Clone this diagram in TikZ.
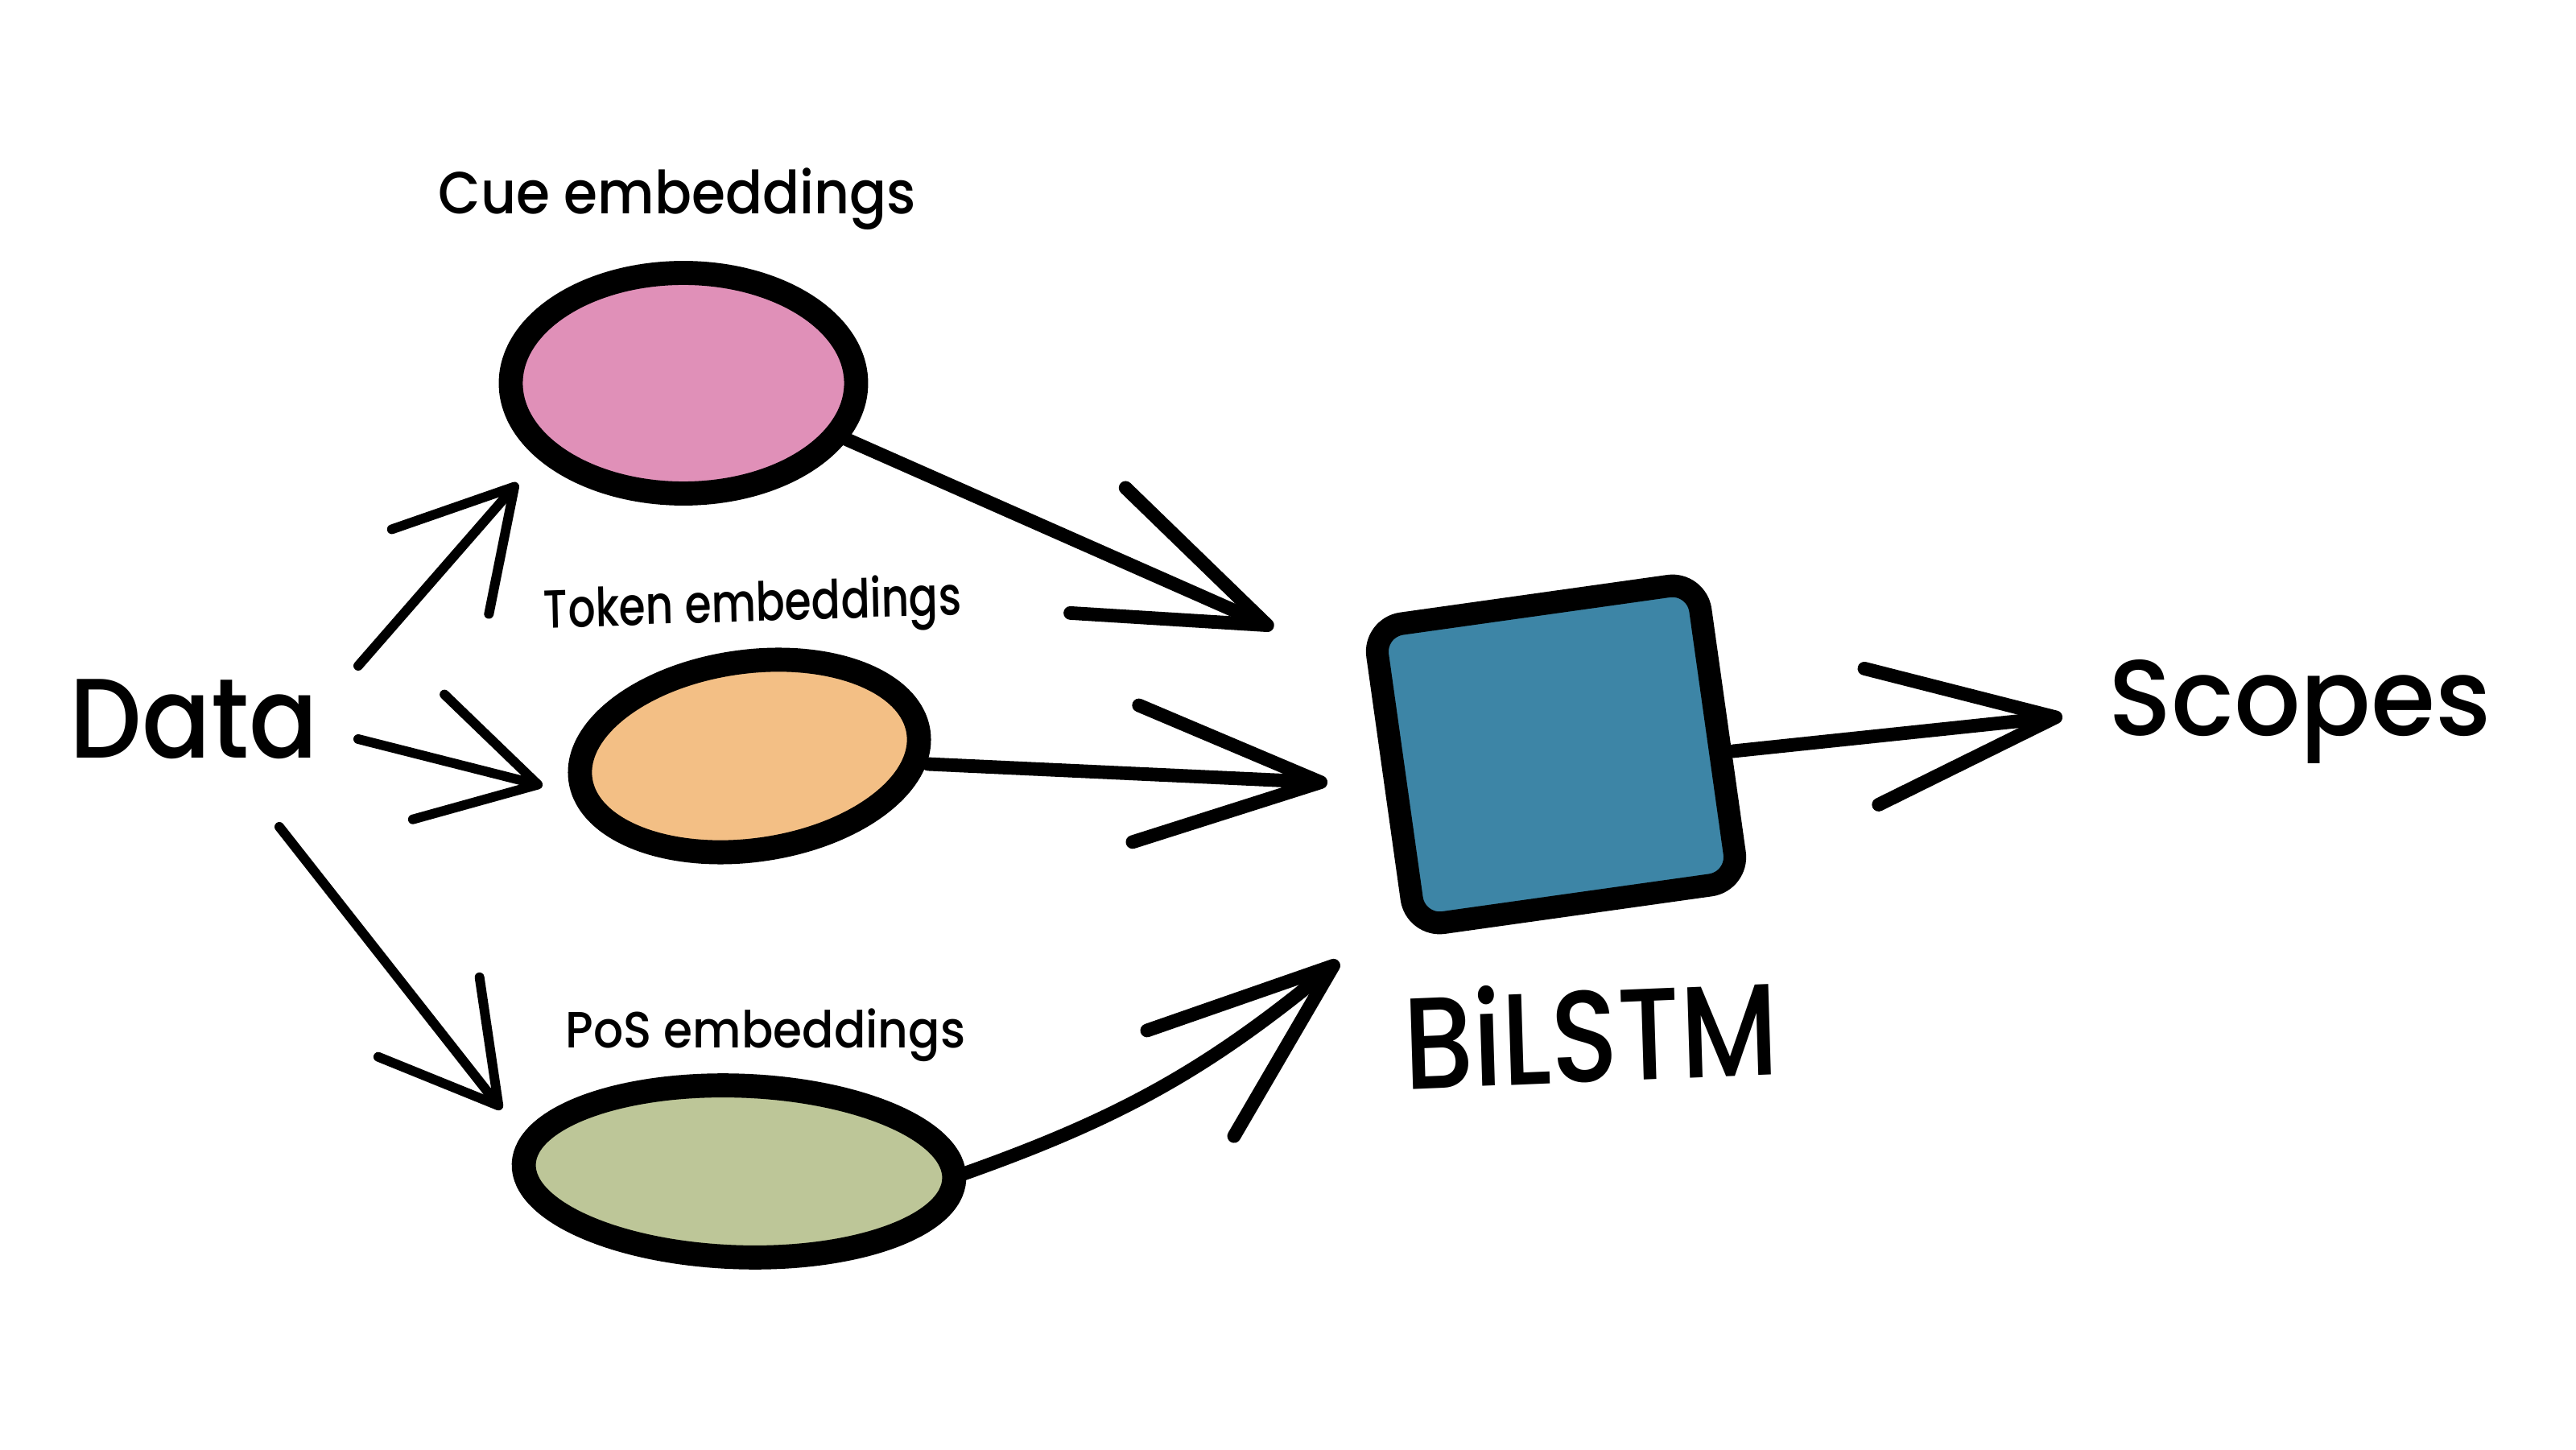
\documentclass[tikz,border=0pt]{standalone}
\usepackage{fontspec}
\setmainfont{Poppins}[UprightFont=* Medium]
\usetikzlibrary{shapes.geometric, arrows.meta}

\definecolor{cuepink}{RGB}{224,144,184}
\definecolor{tokenorange}{RGB}{243,191,133}
\definecolor{posgreen}{RGB}{189,198,152}
\definecolor{lstmblue}{RGB}{61,133,166}

\begin{document}
\begin{tikzpicture}[
            blob/.style={ellipse, draw=black, line width=8.5pt, inner sep=0pt},
            thinarrow/.style={-{Straight Barb[length=14mm, width=16mm, round]}, line width=3.4pt, line cap=round},
            thickarrow/.style={-{Straight Barb[length=23mm, width=17mm, round]}, line width=4.8pt, line cap=round},
            embtext/.style={inner sep=0pt, transform shape},
            bigtext/.style={inner sep=0pt, transform shape, font=\fontsize{40}{48}\selectfont}
        ]
            \useasboundingbox[fill=white] (0, 0) rectangle (32, 18);
            \node[bigtext, xscale=0.9] (data) at (2.41, 9.07) {Data};
            \node[embtext, font=\fontsize{21}{25}\selectfont, xscale=0.92] (cuetext) at (8.41, 15.53) {Cue embeddings};
            \node[embtext, font=\fontsize{19}{23}\selectfont, xscale=0.8, rotate=1.5] (tokentext) at (9.35, 10.45) {Token embeddings};
            \node[embtext, font=\fontsize{18}{22}\selectfont, xscale=0.92] (postext) at (9.51, 5.14) {PoS embeddings};
            \node[blob, fill=cuepink, minimum width=4.29cm, minimum height=2.74cm] (cue) at (8.49, 13.24) {};
            \node[blob, fill=tokenorange, minimum width=4.24cm, minimum height=2.34cm, rotate=8] (token) at (9.31, 8.61) {};
            \node[blob, fill=posgreen, minimum width=5.35cm, minimum height=2.13cm, rotate=-2] (pos) at (9.18, 3.45) {};
            \node[draw=black, line width=8pt, fill=lstmblue, rounded corners=10pt, minimum width=4.05cm, minimum height=3.75cm, rotate=8] (bilstm) at (19.33, 8.63) {};
            \node[bigtext, font=\fontsize{46}{54}\selectfont, xscale=0.85, rotate=2] (bilstmtext) at (19.76, 5.18) {BiLSTM};
            \node[bigtext, font=\fontsize{38}{46}\selectfont, xscale=0.97] (scopes) at (28.57, 9.16) {Scopes};
            \draw[thinarrow] ([shift={(2.04, 0.66)}]data.center) -- ([shift={(-2.06, -1.24)}]cue.center);
            \draw[thinarrow] ([shift={(2.04, -0.25)}]data.center) -- ([shift={(-2.57, -0.37)}]token.center);
            \draw[thinarrow] ([shift={(1.06, -1.34)}]data.center) -- ([shift={(-2.95, 0.77)}]pos.center);
            \draw[thickarrow] ([shift={(1.92, -0.65)}]cue.center) -- ([shift={(-3.51, 1.57)}]bilstm.center);
            \draw[thickarrow] ([shift={(2.22, -0.10)}]token.center) -- ([shift={(-2.84, -0.35)}]bilstm.center);
            \draw[thickarrow] ([shift={(2.76, -0.04)}]pos.center) to[bend right=10] ([shift={(-2.70, -2.57)}]bilstm.center);
            \draw[thickarrow] ([shift={(2.20, 0.04)}]bilstm.center) -- ([shift={(-2.95, -0.06)}]scopes.center);
        \end{tikzpicture}
\end{document}
